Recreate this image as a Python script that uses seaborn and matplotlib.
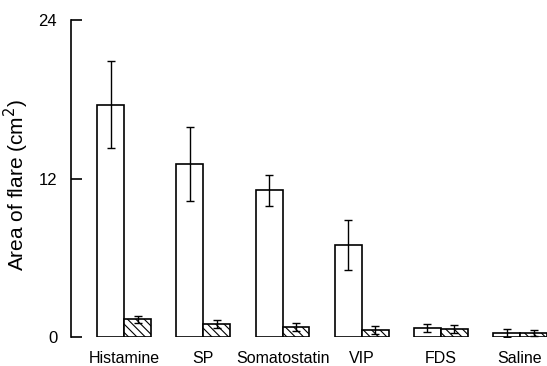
import seaborn as sns
import matplotlib.pyplot as plt
import pandas as pd

# Area of flare (cm2) per substance, open bars vs hatched bars
substances = ["Histamine", "SP", "Somatostatin", "VIP", "FDS", "Saline"]
open_mean = [17.6, 13.1, 11.1, 7.0, 0.7, 0.3]
open_err = [3.3, 2.8, 1.2, 1.9, 0.3, 0.3]
hatched_mean = [1.35, 1.0, 0.75, 0.55, 0.6, 0.3]
hatched_err = [0.25, 0.3, 0.3, 0.3, 0.3, 0.25]
groups = ["open", "hatched"]
yticks = [0, 12, 24]

sns.set_theme(style="white", rc={"text.color": "black", "axes.labelcolor": "black",
                                 "xtick.color": "black", "ytick.color": "black"})
plt.rcParams["font.family"] = ["Liberation Sans", "DejaVu Sans"]
plt.rcParams["hatch.linewidth"] = 0.8

df = pd.DataFrame({
    "substance": substances * 2,
    "group": [groups[0]] * len(substances) + [groups[1]] * len(substances),
    "area": open_mean + hatched_mean,
})
errs = {groups[0]: open_err, groups[1]: hatched_err}

fig = plt.figure(figsize=(5.47, 3.66), dpi=100)
ax = fig.add_axes([0.130, 0.079, 0.870, 0.866])

sns.barplot(data=df, x="substance", y="area", hue="group", order=substances,
            hue_order=groups, palette=["white", "white"], width=0.68,
            edgecolor="black", linewidth=1.2, errorbar=None, legend=False, ax=ax)

# hatch second group, then add error bars at bar centres
for cont, g in zip(ax.containers, groups):
    xs, ys = [], []
    for bar in cont:
        if g == "hatched":
            bar.set_hatch("\\\\\\\\")
        xs.append(bar.get_x() + bar.get_width() / 2)
        ys.append(bar.get_height())
    ax.errorbar(xs, ys, yerr=errs[g], fmt="none", ecolor="black",
                elinewidth=1.0, capsize=3, capthick=1.0)

ax.set_ylim(0, 24)
ax.set_xlim(-0.67, 5.34)
ax.set_yticks(yticks)
ax.set_ylabel("Area of flare (cm$^2$)", fontsize=15)
ax.yaxis.set_label_coords(-0.085, 0.48)
ax.set_xlabel("")
sns.despine(ax=ax, bottom=True)
ax.spines["left"].set_color("black")
ax.spines["left"].set_linewidth(1.2)
ax.tick_params(axis="y", left=True, direction="in", length=8, width=1.2,
               colors="black", labelsize=12, pad=10)
ax.tick_params(axis="x", length=0, colors="black", labelsize=11.5, pad=10)

fig.savefig("out.png", dpi=100)
